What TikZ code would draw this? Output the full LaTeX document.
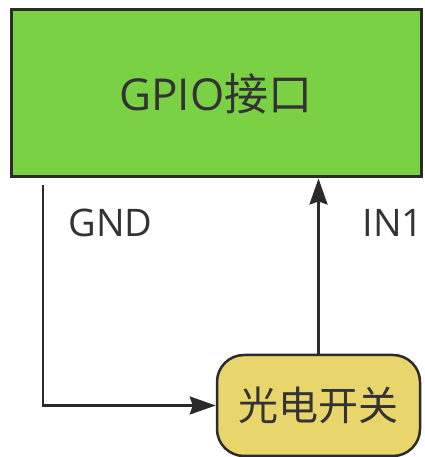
\documentclass[tikz,border=0pt]{standalone}
\usepackage{fontspec}
\setmainfont{Open Sans}
\newfontfamily\cjk{Noto Sans CJK SC}
\usetikzlibrary{arrows.meta}
\definecolor{boxgreen}{HTML}{7AD144}
\definecolor{boxyellow}{HTML}{E8D56B}
\definecolor{edgedark}{HTML}{2B2B2B}
\definecolor{txt}{HTML}{333333}
\tikzset{
  gpiobox/.style={draw=edgedark, line width=3pt, fill=boxgreen, minimum width=410pt, minimum height=167pt, inner sep=0pt, text=txt, font=\fontsize{44}{48}\selectfont},
  sensorbox/.style={draw=edgedark, line width=2.5pt, fill=boxyellow, rounded corners=27pt, minimum width=203pt, minimum height=101pt, inner sep=0pt, text=txt, font=\fontsize{40}{46}\selectfont\cjk},
  wire/.style={draw=edgedark, line width=2.5pt, -{Stealth[length=26pt,width=18pt,inset=3pt]}},
  lbl/.style={text=txt, font=\fontsize{38}{42}\selectfont, inner sep=0pt}
}
\begin{document}
\begin{tikzpicture}[x=1pt,y=1pt]
\useasboundingbox (0,0) rectangle (424,457);
\node[gpiobox] (gpio) at (216,363.5) {GPIO{\cjk 接口}};
\node[sensorbox] (sensor) at (318.5,51.5) {光电开关};
\coordinate (gndstart) at (43,272);
\draw[wire] (gndstart) |- (sensor.west);
\draw[wire] (sensor.north) -- (sensor.north |- gpio.south);
\node[lbl, anchor=base] (gnd) at (110.5,220) {GND};
\node[lbl, anchor=base] (in1) at (393,220) {IN1};
\end{tikzpicture}
\end{document}
